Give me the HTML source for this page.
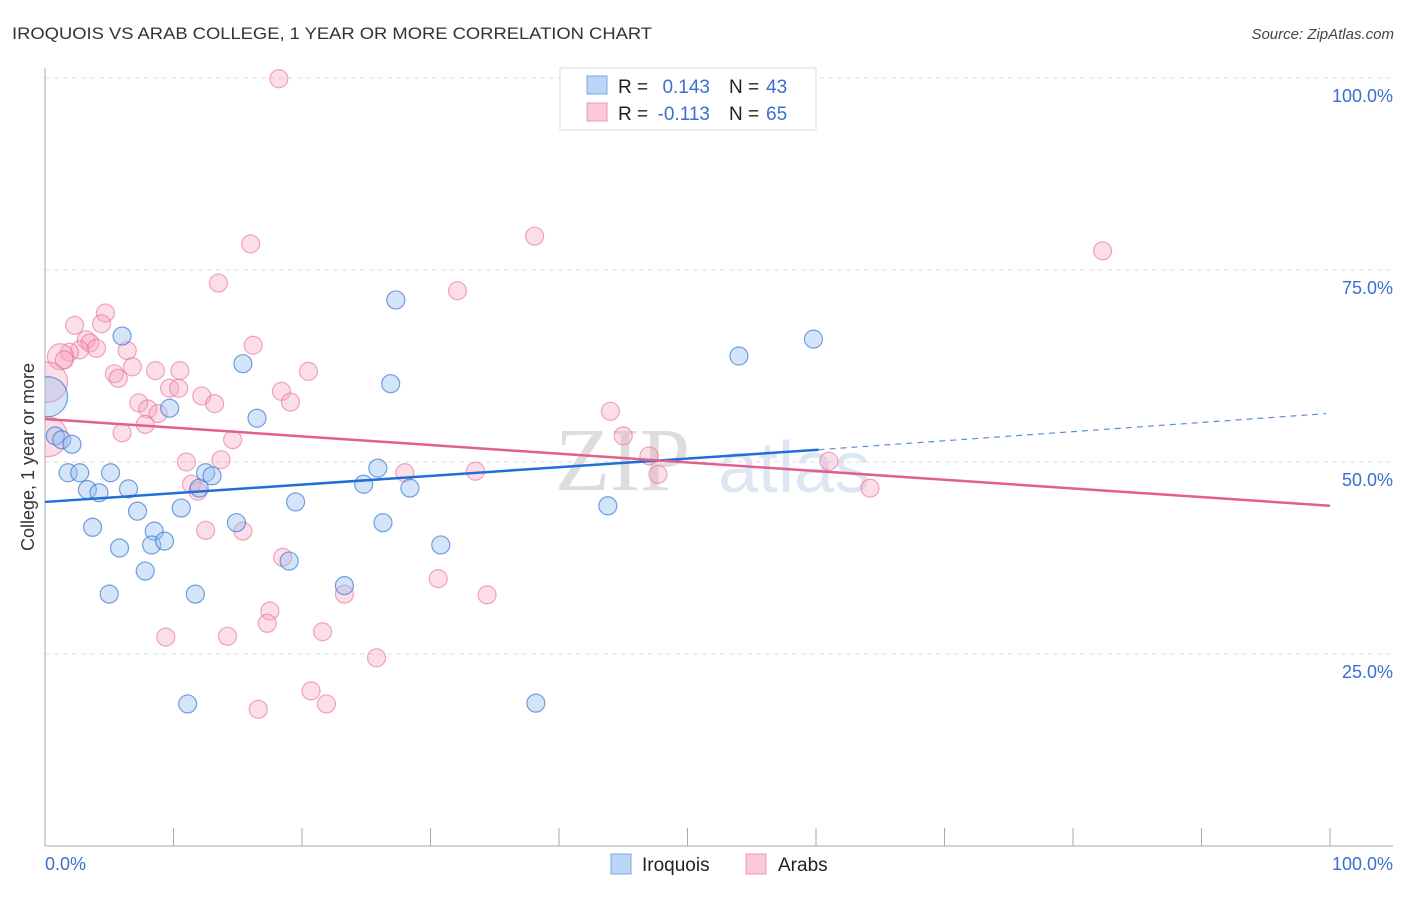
<!DOCTYPE html>
<html><head><meta charset="utf-8"><style>
body{margin:0;background:#fff;font-family:"Liberation Sans",sans-serif}
</style></head><body>
<svg id="c" width="1406" height="892" xmlns="http://www.w3.org/2000/svg">
<defs><clipPath id="plot"><rect x="45" y="60" width="1350" height="786"/></clipPath></defs>
<text x="12" y="39" font-size="17" fill="#333" textLength="640" lengthAdjust="spacingAndGlyphs">IROQUOIS VS ARAB COLLEGE, 1 YEAR OR MORE CORRELATION CHART</text>
<text x="1394" y="39" font-size="15" fill="#444" text-anchor="end" font-style="italic">Source: ZipAtlas.com</text>
<text x="555" y="490" font-size="90" fill="#ddd" font-family="Liberation Serif">ZIP</text>
<text x="718" y="492" font-size="72" fill="#dde6f3">atlas</text>
<g id="grid"></g><g id="axes"></g><g id="pts" clip-path="url(#plot)"></g><g id="lines"></g>
<text transform="translate(34,457) rotate(-90)" font-size="18" fill="#333" text-anchor="middle">College, 1 year or more</text>
<text x="45" y="870" font-size="18" fill="#3a6fd0">0.0%</text>
<text x="1393" y="870" font-size="18" fill="#3a6fd0" text-anchor="end">100.0%</text>
<g>
<rect x="560" y="68" width="256" height="62" fill="#fff" stroke="#ddd"/>
<rect x="587" y="76" width="20" height="18" fill="#bcd4f5" stroke="#7aa6e6"/>
<rect x="587" y="103" width="20" height="18" fill="#fbc8d7" stroke="#ee9ab4"/>
<text x="618" y="93" font-size="19" fill="#222">R =</text>
<text x="710" y="93" font-size="19" fill="#3a6fd0" text-anchor="end">0.143</text>
<text x="729" y="93" font-size="19" fill="#222">N =</text>
<text x="766" y="93" font-size="19" fill="#3a6fd0">43</text>
<text x="618" y="120" font-size="19" fill="#222">R =</text>
<text x="710" y="120" font-size="19" fill="#3a6fd0" text-anchor="end">-0.113</text>
<text x="729" y="120" font-size="19" fill="#222">N =</text>
<text x="766" y="120" font-size="19" fill="#3a6fd0">65</text>
</g>
<g>
<rect x="611" y="854" width="20" height="20" fill="#bcd4f5" stroke="#7aa6e6"/>
<text x="642" y="871" font-size="19" fill="#222">Iroquois</text>
<rect x="746" y="854" width="20" height="20" fill="#fbc8d7" stroke="#ee9ab4"/>
<text x="778" y="871" font-size="19" fill="#222">Arabs</text>
</g>
</svg>
<script>
const blueX=[0.2,0.8,1.3,2.1,1.8,2.7,5.1,3.3,4.2,6.5,3.7,7.2,5.8,5.0,7.8,8.5,8.3,9.3,9.7,6.0,10.6,11.7,11.1,12.0,12.5,13.0,14.9,15.4,16.5,19.0,19.5,23.3,24.8,25.9,26.3,27.3,26.9,28.4,30.8,38.2,43.8,54.0,59.8];
const blueY=[58.5,53.4,52.9,52.3,48.6,48.6,48.6,46.4,46.0,46.5,41.5,43.6,38.8,32.8,35.8,41.0,39.2,39.7,57.0,66.4,44.0,32.8,18.5,46.6,48.6,48.2,42.1,62.8,55.7,37.1,44.8,33.9,47.1,49.2,42.1,71.1,60.2,46.6,39.2,18.6,44.3,63.8,66.0];
const pinkX=[18.2,16.0,38.1,82.3,13.5,32.1,4.7,2.3,4.4,3.2,3.5,4.0,2.7,1.9,1.2,1.5,6.4,16.2,0.2,5.4,5.7,6.8,8.6,10.5,20.5,9.7,10.4,18.4,19.1,12.2,13.2,7.3,8.0,8.8,7.8,6.0,14.6,0.2,11.0,13.7,11.4,11.9,12.5,15.4,18.5,17.5,17.3,9.4,14.2,21.6,23.3,25.8,20.7,21.9,16.6,28.0,30.6,33.5,34.4,44.0,45.0,47.0,47.7,61.0,64.2];
const pinkY=[99.9,78.4,79.4,77.5,73.3,72.3,69.4,67.8,68.0,65.9,65.5,64.8,64.6,64.3,63.7,63.3,64.5,65.2,60.4,61.5,60.9,62.4,61.9,61.9,61.8,59.6,59.6,59.2,57.8,58.6,57.6,57.7,56.9,56.3,54.9,53.8,52.9,53.3,50.0,50.3,47.1,46.2,41.1,41.0,37.6,30.6,29.0,27.2,27.3,27.9,32.8,24.5,20.2,18.5,17.8,48.6,34.8,48.8,32.7,56.6,53.4,50.8,48.4,50.1,46.6];
const bigBlue=[0];const bigPink=[18,37];const midPink=[14];
const yTicks=[25,50,75,100];
const blueTrend=[[0,44.8],[60.2,51.6],[99.7,56.3]];
const pinkTrend=[[0,55.6],[100,44.3]];
const X=v=>45+v*12.85, Y=v=>846-v*7.68;
const NS='http://www.w3.org/2000/svg';
function mk(t,a,p){const e=document.createElementNS(NS,t);for(const k in a)e.setAttribute(k,a[k]);document.getElementById(p).appendChild(e);return e;}
yTicks.forEach(t=>{
 const l=mk('line',{x1:45,x2:1393,y1:Y(t),y2:Y(t),stroke:'#ddd','stroke-dasharray':'5,4'},'grid');
 
 
 const tx=mk('text',{x:1393,y:Y(t)+24,'font-size':18,fill:'#3a6fd0','text-anchor':'end'},'grid');
 tx.textContent=t.toFixed(1)+'%';
 
 
});
let a=mk('line',{x1:45,x2:45,y1:68,y2:846,stroke:'#aaa'},'axes');

a=mk('line',{x1:45,x2:1393,y1:846,y2:846,stroke:'#aaa'},'axes');

for(let i=0;i<=10;i++){const t=mk('line',{x1:X(i*10),x2:X(i*10),y1:828,y2:846,stroke:'#aaa'},'axes');
 }
pinkX.forEach((x,i)=>{const r=bigPink.includes(i)?20:(midPink.includes(i)?13:9);const c=mk('circle',{cx:X(x),cy:Y(pinkY[i]),r:r,fill:'rgba(246,160,188,0.35)',stroke:'rgba(232,110,150,0.6)','stroke-width':1.2},'pts');
 });
blueX.forEach((x,i)=>{const c=mk('circle',{cx:X(x),cy:Y(blueY[i]),r:bigBlue.includes(i)?20:9,fill:'rgba(150,190,240,0.4)',stroke:'rgba(60,120,210,0.7)','stroke-width':1.2},'pts');
 });
let l=mk('line',{x1:X(blueTrend[0][0]),y1:Y(blueTrend[0][1]),x2:X(blueTrend[1][0]),y2:Y(blueTrend[1][1]),stroke:'#1f6fd6','stroke-width':2.5},'lines');

l=mk('line',{x1:X(blueTrend[1][0]),y1:Y(blueTrend[1][1]),x2:X(blueTrend[2][0]),y2:Y(blueTrend[2][1]),stroke:'#5a8fd8','stroke-width':1.2,'stroke-dasharray':'6,5'},'lines');

l=mk('line',{x1:X(pinkTrend[0][0]),y1:Y(pinkTrend[0][1]),x2:X(pinkTrend[1][0]),y2:Y(pinkTrend[1][1]),stroke:'#e2608c','stroke-width':2.5},'lines');

</script>
</body></html>
